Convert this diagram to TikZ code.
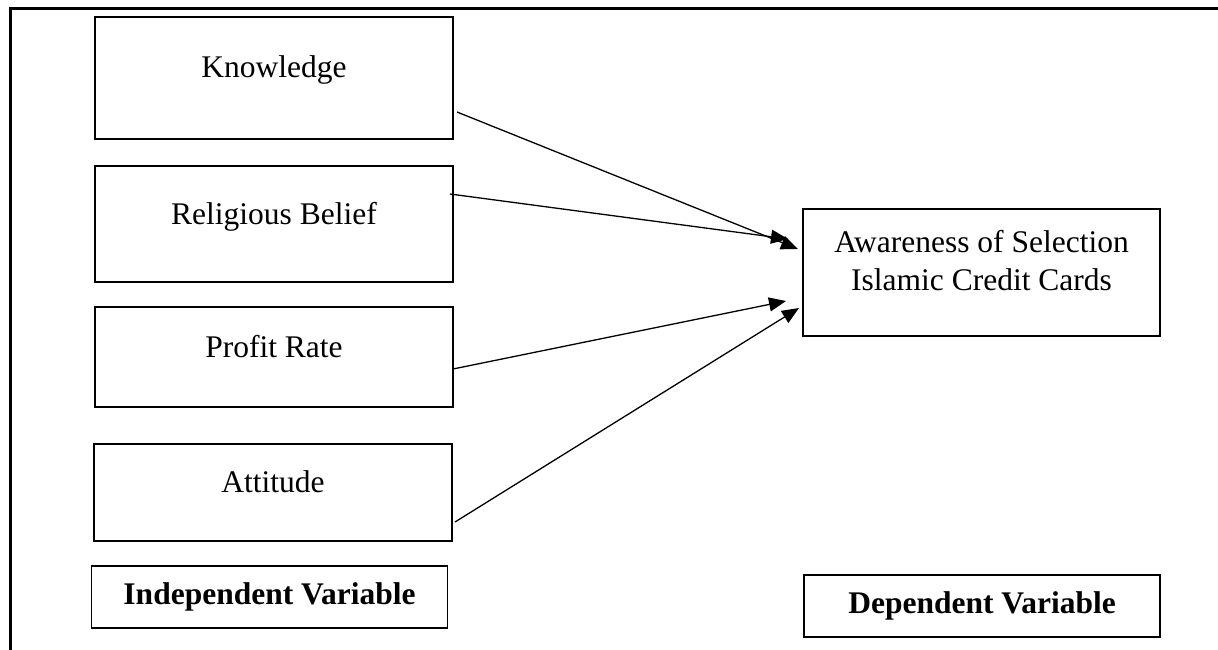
\documentclass[tikz,border=0pt]{standalone}
\usepackage{fontspec}
\setmainfont{Liberation Serif}
\usetikzlibrary{arrows.meta}

\begin{document}
\begin{tikzpicture}[x=1pt, y=-1pt,
  every node/.style={font=\fontsize{31.5}{38}\selectfont},
  factor/.style={draw, line width=2.8pt, inner sep=0pt, outer sep=0pt,
    minimum width=358pt, text height=20pt, text depth=20pt},
  tag/.style={draw, line width=1.6pt, inner sep=0pt, outer sep=0pt,
    minimum width=356pt, minimum height=62pt, font=\fontsize{31.5}{38}\selectfont\bfseries},
  link/.style={line width=1.3pt, -{Triangle[length=17pt,width=14pt]}}]
  \useasboundingbox (0,0) rectangle (1218,650);

  % frame
  \draw[line width=3pt] (1218,9) -- (10,9) -- (10,650);

  \node[factor, minimum height=122pt] (know) at (274,78) {Knowledge};
  \node[factor, minimum height=116pt] (rel) at (274,224) {Religious Belief};
  \node[factor, minimum height=100pt] (prof) at (274,357) {Profit Rate};
  \node[factor, minimum height=97pt] (att) at (273,492.5) {Attitude};

  \node[draw, line width=2.8pt, inner sep=0pt, outer sep=0pt, align=center,
    minimum width=357pt, minimum height=127pt] (aware) at (981.5,272.5)
    {Awareness of Selection\\Islamic Credit Cards\rule[-24pt]{0pt}{0pt}};

  \node[tag] (indep) at (269.5,597) {Independent Variable};
  \node[tag] (dep) at (982,606) {Dependent Variable};

  \draw[link] ([xshift=4pt,yshift=-34pt]know.east) -- ([xshift=-5pt,yshift=23.5pt]aware.west);
  \draw[link] ([xshift=-3pt,yshift=30pt]rel.east) -- ([xshift=-15pt,yshift=33.5pt]aware.west);
  \draw[link] ([yshift=-12pt]prof.east) -- ([xshift=-17pt,yshift=-28.5pt]aware.west);
  \draw[link] ([xshift=3pt,yshift=-29.5pt]att.east) -- ([xshift=-4pt,yshift=-35.5pt]aware.west);
\end{tikzpicture}
\end{document}
